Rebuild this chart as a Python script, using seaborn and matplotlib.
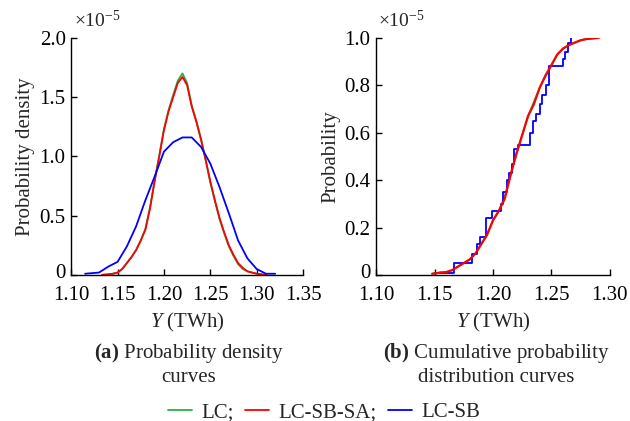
import pandas as pd
import matplotlib
matplotlib.use("Agg")
import matplotlib.pyplot as plt
import matplotlib.transforms as mtransforms
import seaborn as sns
from matplotlib.lines import Line2D

# ---------------------------
# data (y in units of 1e-5)
# ---------------------------
pdf_x = [1.133, 1.14, 1.145, 1.15, 1.155, 1.16, 1.165, 1.17, 1.175, 1.18,
         1.185, 1.19, 1.195, 1.20, 1.205, 1.21, 1.215, 1.22, 1.225, 1.23,
         1.235, 1.24, 1.245, 1.25, 1.255, 1.26, 1.265, 1.27, 1.275, 1.28,
         1.285, 1.29, 1.30, 1.31]
pdf_lc = [0.0, 0.005, 0.01, 0.02, 0.05, 0.10, 0.15, 0.21, 0.29, 0.39,
          0.57, 0.80, 1.01, 1.23, 1.39, 1.52, 1.64, 1.70, 1.62, 1.43,
          1.30, 1.15, 0.97, 0.78, 0.62, 0.47, 0.35, 0.24, 0.16, 0.09,
          0.05, 0.03, 0.01, 0.0]
pdf_lcsbsa = [0.0, 0.005, 0.01, 0.02, 0.05, 0.10, 0.15, 0.21, 0.29, 0.38,
              0.56, 0.79, 1.00, 1.22, 1.38, 1.50, 1.62, 1.67, 1.60, 1.42,
              1.29, 1.14, 0.97, 0.79, 0.63, 0.48, 0.36, 0.25, 0.17, 0.10,
              0.06, 0.03, 0.01, 0.0]
pdf_sb_x = [1.115, 1.13, 1.14, 1.15, 1.16, 1.17, 1.18, 1.19, 1.20, 1.21,
            1.22, 1.23, 1.24, 1.25, 1.26, 1.27, 1.28, 1.29, 1.30, 1.31, 1.32]
pdf_lcsb = [0.01, 0.02, 0.07, 0.11, 0.24, 0.41, 0.63, 0.83, 1.04, 1.12,
            1.16, 1.16, 1.08, 0.94, 0.74, 0.52, 0.29, 0.14, 0.05, 0.01, 0.01]

cdf_x = [1.148, 1.155, 1.16, 1.165, 1.17, 1.175, 1.18, 1.185, 1.19, 1.195,
         1.20, 1.205, 1.21, 1.215, 1.22, 1.225, 1.23, 1.235, 1.24, 1.245,
         1.25, 1.255, 1.26, 1.265, 1.27, 1.275, 1.28, 1.29, 1.295]
cdf_lc = [0.005, 0.01, 0.012, 0.02, 0.035, 0.05, 0.065, 0.09, 0.13, 0.17,
          0.23, 0.27, 0.33, 0.42, 0.51, 0.59, 0.67, 0.73, 0.79, 0.845,
          0.885, 0.93, 0.955, 0.97, 0.98, 0.99, 0.995, 1.0, 1.01]
cdf_lcsbsa = [0.005, 0.01, 0.012, 0.02, 0.035, 0.05, 0.065, 0.09, 0.13, 0.17,
              0.23, 0.27, 0.32, 0.42, 0.51, 0.59, 0.67, 0.72, 0.79, 0.84,
              0.885, 0.93, 0.955, 0.97, 0.98, 0.99, 0.995, 1.0, 1.01]
cdf_sb_x = [1.15, 1.167, 1.182, 1.186, 1.189, 1.194, 1.199, 1.207, 1.209,
            1.212, 1.214, 1.216, 1.218, 1.221, 1.232, 1.234, 1.237, 1.240,
            1.242, 1.245, 1.248, 1.260, 1.262, 1.264, 1.267]
cdf_lcsb = [0.01, 0.05, 0.09, 0.13, 0.16, 0.24, 0.27, 0.30, 0.35,
            0.40, 0.43, 0.47, 0.53, 0.55, 0.60, 0.65, 0.68, 0.72,
            0.76, 0.80, 0.88, 0.91, 0.94, 0.98, 1.01]

series_names = ["LC;", "LC-SB-SA;", "LC-SB"]
series_colors = ["#1fb44a", "#ff0000", "#0000ff"]

# ---------------------------
# style
# ---------------------------
sns.set_style("ticks")
plt.rcParams["font.family"] = ["Liberation Serif", "DejaVu Serif"]
plt.rcParams["mathtext.fontset"] = "custom"
plt.rcParams["mathtext.rm"] = "Liberation Serif"
plt.rcParams["mathtext.it"] = "Liberation Serif:italic"
plt.rcParams["mathtext.bf"] = "Liberation Serif:bold"
plt.rcParams["xtick.direction"] = "in"
plt.rcParams["ytick.direction"] = "in"

fs = 15
fig = plt.figure(figsize=(6.3, 4.21), dpi=100)
ax1 = fig.add_axes([0.113, 0.347, 0.368, 0.563])
ax2 = fig.add_axes([0.597, 0.347, 0.371, 0.563])

lw = 1.3
# (a) density curves
sns.lineplot(x=pdf_x, y=pdf_lc, ax=ax1, color=series_colors[0], lw=lw, sort=False)
sns.lineplot(x=pdf_x, y=pdf_lcsbsa, ax=ax1, color=series_colors[1], lw=lw, sort=False)
sns.lineplot(x=pdf_sb_x, y=pdf_lcsb, ax=ax1, color=series_colors[2], lw=lw, sort=False)

# (b) cumulative curves
sns.lineplot(x=cdf_x, y=cdf_lc, ax=ax2, color=series_colors[0], lw=lw, sort=False)
sns.lineplot(x=cdf_sb_x, y=cdf_lcsb, ax=ax2, color=series_colors[2], lw=lw,
             sort=False, drawstyle="steps-post")
sns.lineplot(x=cdf_x, y=cdf_lcsbsa, ax=ax2, color=series_colors[1], lw=1.6, sort=False)

ax1.set_xlim(1.10, 1.35)
ax1.set_ylim(0, 2.0)
ax1.set_xticks([1.10, 1.15, 1.20, 1.25, 1.30, 1.35])
ax1.set_xticklabels(["1.10", "1.15", "1.20", "1.25", "1.30", "1.35"])
ax1.set_yticks([0, 0.5, 1.0, 1.5, 2.0])
ax1.set_yticklabels(["0", "0.5", "1.0", "1.5", "2.0"])
ax1.set_ylabel("Probability density", fontsize=fs, labelpad=3)

ax2.set_xlim(1.10, 1.30)
ax2.set_ylim(0, 1.0)
ax2.set_xticks([1.10, 1.15, 1.20, 1.25, 1.30])
ax2.set_xticklabels(["1.10", "1.15", "1.20", "1.25", "1.30"])
ax2.set_yticks([0, 0.2, 0.4, 0.6, 0.8, 1.0])
ax2.set_yticklabels(["0", "0.2", "0.4", "0.6", "0.8", "1.0"])
ax2.set_ylabel("Probability", fontsize=fs, labelpad=3)

for ax in (ax1, ax2):
    sns.despine(ax=ax)
    ax.tick_params(labelsize=fs, length=4, width=1, colors="black")
    ax.tick_params(axis="x", pad=8)
    ax.tick_params(axis="y", pad=4)
    for s in ("left", "bottom"):
        ax.spines[s].set_color("black")
        ax.spines[s].set_linewidth(1)
    ax.set_xlabel("$Y$ (TWh)", fontsize=fs, labelpad=4)
    ax.text(0.01, 1.03, r"$\times$10$^{-5}$", transform=ax.transAxes,
            fontsize=14, ha="left", va="bottom")
    # nudge the "0" label up a little so it clears the first x label
    lab0 = ax.get_yticklabels()[0]
    lab0.set_transform(lab0.get_transform() +
                       mtransforms.ScaledTranslation(0, 3 / 72, fig.dpi_scale_trans))

fig.text(0.300, 0.135, "$\\mathbf{(a)}$ Probability density\ncurves",
         fontsize=fs, ha="center", va="center", linespacing=1.2)
fig.text(0.788, 0.135, "$\\mathbf{(b)}$ Cumulative probability\ndistribution curves",
         fontsize=fs, ha="center", va="center", linespacing=1.2)

handles = [Line2D([], [], color=c, lw=lw) for c in series_colors]
fig.legend(handles, series_names, loc="center", bbox_to_anchor=(0.514, 0.021),
           ncol=3, frameon=False, fontsize=fs, handlelength=1.15,
           handletextpad=0.45, columnspacing=0.55, borderaxespad=0)

plt.savefig("out.png", dpi=100)
